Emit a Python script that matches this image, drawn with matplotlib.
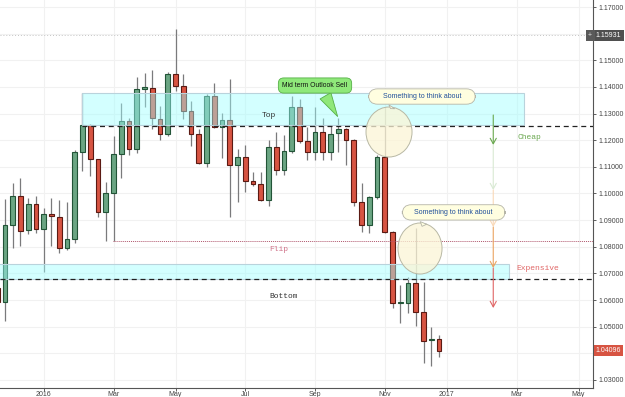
import matplotlib
matplotlib.use("Agg")
import matplotlib.pyplot as plt
import matplotlib.transforms as mtransforms
from matplotlib.patches import Rectangle, Ellipse
import numpy as np
import pandas as pd

# ---------------- data ----------------
week_start = "2015-11-23"
n_weeks = 58
opens = [1.0645, 1.0593, 1.0882, 1.0990, 1.0863, 1.0960, 1.0867, 1.0923, 1.0912, 1.0795,
         1.0829, 1.1156, 1.1257, 1.1129, 1.0930, 1.1002, 1.1148, 1.1272, 1.1167, 1.1392,
         1.1396, 1.1280, 1.1223, 1.1449, 1.1404, 1.1310, 1.1223, 1.1114, 1.1366, 1.1250,
         1.1276, 1.1107, 1.1137, 1.1047, 1.1036, 1.0975, 1.1175, 1.1088, 1.1160, 1.1325,
         1.1197, 1.1156, 1.1231, 1.1156, 1.1227, 1.1242, 1.1201, 1.0968, 1.0882, 1.0987,
         1.1137, 1.0855, 1.0589, 1.0589, 1.0664, 1.0555, 1.0450, 1.0454]
highs = [1.0675, 1.0979, 1.1040, 1.1058, 1.0983, 1.0990, 1.0946, 1.0983, 1.0976, 1.0968,
         1.1165, 1.1376, 1.1260, 1.1130, 1.1043, 1.1216, 1.1340, 1.1283, 1.1437, 1.1452,
         1.1464, 1.1328, 1.1456, 1.1617, 1.1449, 1.1347, 1.1242, 1.1374, 1.1415, 1.1302,
         1.1430, 1.1167, 1.1182, 1.1081, 1.1081, 1.1201, 1.1231, 1.1220, 1.1366, 1.1355,
         1.1250, 1.1325, 1.1283, 1.1257, 1.1283, 1.1245, 1.1205, 1.1039, 1.0990, 1.1144,
         1.1325, 1.0858, 1.0656, 1.0686, 1.0870, 1.0668, 1.0499, 1.0470]
lows = [1.0582, 1.0521, 1.0795, 1.0803, 1.0848, 1.0852, 1.0705, 1.0803, 1.0777, 1.0788,
        1.0814, 1.1084, 1.1066, 1.0912, 1.0822, 1.0822, 1.1058, 1.1144, 1.1152, 1.1325,
        1.1243, 1.1201, 1.1216, 1.1385, 1.1280, 1.1178, 1.1110, 1.1099, 1.1245, 1.1133,
        1.0912, 1.0968, 1.1006, 1.1028, 1.0970, 1.0953, 1.1069, 1.1069, 1.1152, 1.1190,
        1.1126, 1.1126, 1.1126, 1.1126, 1.1156, 1.1107, 1.0953, 1.0855, 1.0852, 1.0979,
        1.0852, 1.0570, 1.0514, 1.0551, 1.0503, 1.0364, 1.0353, 1.0386]
closes = [1.0593, 1.0882, 1.0990, 1.0859, 1.0960, 1.0867, 1.0923, 1.0915, 1.0795, 1.0829,
          1.1156, 1.1257, 1.1129, 1.0930, 1.1002, 1.1148, 1.1272, 1.1167, 1.1392, 1.1400,
          1.1283, 1.1223, 1.1449, 1.1404, 1.1310, 1.1223, 1.1114, 1.1366, 1.1250, 1.1276,
          1.1107, 1.1137, 1.1047, 1.1036, 1.0975, 1.1175, 1.1088, 1.1160, 1.1325, 1.1197,
          1.1156, 1.1231, 1.1156, 1.1223, 1.1242, 1.1201, 1.0968, 1.0882, 1.0987, 1.1137,
          1.0855, 1.0589, 1.0593, 1.0664, 1.0555, 1.0446, 1.0454, 1.04096]

tick_dates = ["2016-01-04", "2016-03-07", "2016-05-02", "2016-07-04", "2016-09-05",
              "2016-11-07", "2017-01-02", "2017-03-06", "2017-05-01"]
tick_labels = ["2016", "Mar", "May", "Jul", "Sep", "Nov", "2017", "Mar", "May"]
price_ticks = [1.03, 1.05, 1.06, 1.07, 1.08, 1.09, 1.10, 1.11, 1.12, 1.13, 1.14, 1.15, 1.17]
grid_levels = [1.03, 1.04, 1.05, 1.06, 1.07, 1.08, 1.09, 1.10, 1.11, 1.12, 1.13, 1.14, 1.15, 1.16, 1.17]

top_zone = (1.1257, 1.1376)
top_line = 1.1255
flip_level = 1.0822
bottom_zone = (1.0679, 1.0735)
bottom_line = 1.0679
marker_price = 1.15931
last_price = 1.04096

# ---------------- figure ----------------
W, H = 625, 397
fig = plt.figure(figsize=(W / 100, H / 100), dpi=100)
fig.patch.set_facecolor("white")
ax = fig.add_axes([0, 1 - 388 / H, 593 / W, 388 / H])

weeks = pd.date_range(week_start, periods=n_weeks, freq="7D")
x = np.arange(n_weeks)
o = np.array(opens); h = np.array(highs); l = np.array(lows); c = np.array(closes)
up = c >= o

x_left, x_right = 0.355, 76.87
ax.set_xlim(x_left, x_right)
ax.set_ylim(1.02698, 1.17263)

# grid
for g in grid_levels:
    ax.axhline(g, color="#f1f1f1", lw=0.8, zorder=0)
tick_pos = [(pd.Timestamp(d) - weeks[0]).days / 7 for d in tick_dates]
for t in tick_pos:
    ax.axvline(t, color="#f1f1f1", lw=0.8, zorder=0)

# candles
ax.vlines(x, l, h, color="#7a7a7c", lw=0.9, zorder=2)
body_h = np.maximum(np.abs(c - o), 0.00025)
body_b = np.minimum(o, c)
ax.bar(x[up], body_h[up], bottom=body_b[up], width=0.63, color="#6ba583",
       edgecolor="#225437", linewidth=0.8, zorder=3)
ax.bar(x[~up], body_h[~up], bottom=body_b[~up], width=0.63, color="#d75442",
       edgecolor="#5b1a13", linewidth=0.8, zorder=3)

# zones
ax.add_patch(Rectangle((11.0, top_zone[0]), 68.0 - 11.0, top_zone[1] - top_zone[0],
                       facecolor=(0.62, 1.0, 1.0, 0.45), edgecolor="#b9d3dc", lw=0.8, zorder=4))
ax.add_patch(Rectangle((x_left - 1, bottom_zone[0]), 66.0 - x_left + 1, bottom_zone[1] - bottom_zone[0],
                       facecolor=(0.62, 1.0, 1.0, 0.45), edgecolor="#b9d3dc", lw=0.8, zorder=4))

# lines
ax.hlines(top_line, 11.0, x_right, colors="#222222", linestyles=(0, (4, 3)), lw=0.9, zorder=5)
ax.hlines(bottom_line, x_left, x_right, colors="#222222", linestyles=(0, (4, 3)), lw=0.9, zorder=5)
ax.hlines(flip_level, 14.9, x_right, colors="#b0566c", linestyles=(0, (1, 1)), lw=0.7, zorder=5)
ax.axhline(marker_price, color="#c4c4c4", linestyle=(0, (1, 2)), lw=0.7, zorder=1)

# labels
mono = "Liberation Mono"
ax.text(35.1, 1.1291, "Top", fontsize=5.8, family=mono, color="#333333", ha="center", va="center", zorder=6)
ax.text(68.6, 1.1212, "Cheap", fontsize=5.8, family=mono, color="#6aa84f", ha="center", va="center", zorder=6)
ax.text(36.3, 1.0788, "Flip", fontsize=5.8, family=mono, color="#d0738a", ha="center", va="center", zorder=6)
ax.text(37.0, 1.0615, "Bottom", fontsize=5.8, family=mono, color="#333333", ha="center", va="center", zorder=6)
ax.text(69.8, 1.0720, "Expensive", fontsize=5.8, family=mono, color="#e06666", ha="center", va="center", zorder=6)

# arrow chain
ax_x = 64.0
segs = [(1.12946, 1.11820, "#6aa84f"), (1.11820, 1.10130, "#d9ead3"),
        (1.10130, 1.08741, "#f9d9b8"), (1.08741, 1.07202, "#eba462"),
        (1.07202, 1.05701, "#e06666")]
for y0, y1, col in segs:
    ax.annotate("", xy=(ax_x, y1), xytext=(ax_x, y0),
                arrowprops=dict(arrowstyle="->,head_length=0.4,head_width=0.22", color=col,
                                lw=0.8, shrinkA=0, shrinkB=0, mutation_scale=10), zorder=5)

# ellipses
ax.add_patch(Ellipse((50.55, 1.12308), 5.94, 0.01877, facecolor=(0.99, 0.96, 0.84, 0.75),
                     edgecolor="#b8b8a4", lw=0.7, zorder=6))
ax.add_patch(Ellipse((54.55, 1.07934), 5.68, 0.01915, facecolor=(0.99, 0.96, 0.84, 0.75),
                     edgecolor="#b8b8a4", lw=0.7, zorder=6))

# callouts
sans = "Liberation Sans"
ax.annotate("Mid term Outlook Sell", xy=(44.1, 1.1280), xytext=(41.0, 1.14053),
            ha="center", va="center", fontsize=4.9, family=sans, color="#111111",
            bbox=dict(boxstyle="round,pad=0.6,rounding_size=0.8", fc="#8fe87a", ec="#55b046", lw=0.6),
            arrowprops=dict(arrowstyle="wedge,tail_width=0.9,shrink_factor=0.5", fc="#8fe87a",
                            ec="#55b046", lw=0.6, relpos=(0.6, 0.0), mutation_scale=10),
            zorder=8)
ax.annotate("     Something to think about     ", xy=(50.55, 1.1310), xytext=(54.8, 1.1364),
            ha="center", va="center", fontsize=5.0, family=sans, color="#1f4e9a",
            bbox=dict(boxstyle="round,pad=0.6,rounding_size=1.3", fc="#fffee0", ec="#b5b5a8", lw=0.6),
            arrowprops=dict(arrowstyle="wedge,tail_width=0.5,shrink_factor=0.5", fc="#fffee0",
                            ec="#b5b5a8", lw=0.6, relpos=(0.24, 0.0), mutation_scale=10),
            zorder=8)
ax.annotate("    Something to think about    ", xy=(54.68, 1.0867), xytext=(58.9, 1.0929),
            ha="center", va="center", fontsize=5.0, family=sans, color="#1f4e9a",
            bbox=dict(boxstyle="round,pad=0.6,rounding_size=1.3", fc="#fffee0", ec="#b5b5a8", lw=0.6),
            arrowprops=dict(arrowstyle="wedge,tail_width=0.5,shrink_factor=0.5", fc="#fffee0",
                            ec="#b5b5a8", lw=0.6, relpos=(0.21, 0.0), mutation_scale=10),
            zorder=8)

# axes styling
ax.yaxis.tick_right()
ax.set_yticks(price_ticks)
ax.set_yticklabels([f"{p:.5f}" for p in price_ticks])
ax.set_xticks(tick_pos)
ax.set_xticklabels(tick_labels)
for s in ["left", "top"]:
    ax.spines[s].set_visible(False)
for s in ["right", "bottom"]:
    ax.spines[s].set_color("#555555")
    ax.spines[s].set_linewidth(0.8)
ax.tick_params(axis="y", labelsize=5.0, colors="#444444", length=2.5, width=0.6, pad=1.2)
ax.tick_params(axis="x", labelsize=5.0, colors="#444444", length=2, width=0.6, pad=0.5)
for lab in ax.get_xticklabels() + ax.get_yticklabels():
    lab.set_family(sans)

# price labels on the axis
blend = mtransforms.blended_transform_factory(ax.transAxes, ax.transData)
ax.text(1.005, marker_price, f"{marker_price:.5f}", transform=blend, ha="left", va="center",
        fontsize=5.0, family=sans, color="white", clip_on=False, zorder=10,
        bbox=dict(boxstyle="square,pad=0.3", fc="#4f4f4f", ec="none"))
ax.text(0.9985, marker_price, "+", transform=blend, ha="right", va="center",
        fontsize=5.0, family=sans, color="#dddddd", clip_on=False, zorder=10,
        bbox=dict(boxstyle="square,pad=0.35", fc="#5a5a5a", ec="none"))
ax.text(1.005, last_price, f"{last_price:.5f}", transform=blend, ha="left", va="center",
        fontsize=5.0, family=sans, color="white", clip_on=False, zorder=10,
        bbox=dict(boxstyle="square,pad=0.3", fc="#d75442", ec="none"))

fig.savefig("out.png", dpi=100, facecolor="white")
